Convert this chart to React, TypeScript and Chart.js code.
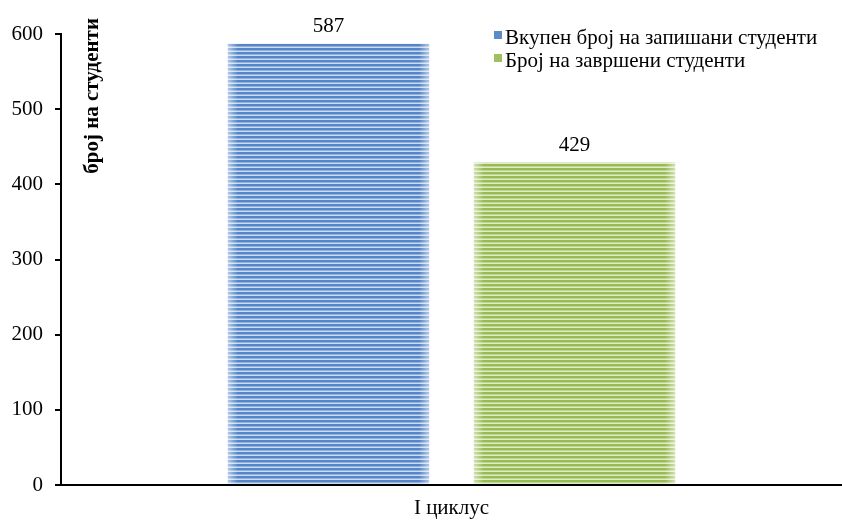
import React, { useEffect, useRef } from "react";
import { Chart, registerables } from "chart.js";

Chart.register(...registerables);

// Chart data
const categories = ["I циклус"];
const seriesLabels = ["Вкупен број на запишани студенти", "Број на завршени студенти"];
const enrolled = [587];
const graduated = [429];
const yTicks = [0, 100, 200, 300, 400, 500, 600];
const yTitle = "број на студенти";

const FONT = "'Liberation Serif', 'Times New Roman', serif";

// Horizontal pinstripe fill for the bars
function stripes(dark: string, mid: string, light: string): CanvasPattern | string {
  const c = document.createElement("canvas");
  c.width = 4;
  c.height = 4;
  const g = c.getContext("2d");
  if (!g) return dark;
  g.fillStyle = dark;
  g.fillRect(0, 0, 4, 2);
  g.fillStyle = mid;
  g.fillRect(0, 2, 4, 1);
  g.fillStyle = light;
  g.fillRect(0, 3, 4, 1);
  const ctx = document.createElement("canvas").getContext("2d");
  return (ctx && ctx.createPattern(c, "repeat")) || dark;
}

const swatches = ["#5b8bcb", "#9fc05e"];

// Soft light fade at the left and right edges of each bar
const barSheen = {
  id: "barSheen",
  afterDatasetsDraw(chart: any) {
    const ctx = chart.ctx;
    chart.data.datasets.forEach((_: any, di: number) => {
      chart.getDatasetMeta(di).data.forEach((el: any) => {
        const { x, y, base, width } = el.getProps(["x", "y", "base", "width"], true);
        const l = x - width / 2;
        const r = x + width / 2;
        const grad = ctx.createLinearGradient(l, 0, r, 0);
        grad.addColorStop(0, "rgba(255,255,255,0.55)");
        grad.addColorStop(0.05, "rgba(255,255,255,0)");
        grad.addColorStop(0.95, "rgba(255,255,255,0)");
        grad.addColorStop(1, "rgba(255,255,255,0.55)");
        ctx.save();
        ctx.fillStyle = grad;
        ctx.fillRect(l, y, width, base - y);
        ctx.restore();
      });
    });
  },
};

// Value labels above bars
const valueLabels = {
  id: "valueLabels",
  afterDatasetsDraw(chart: any) {
    const ctx = chart.ctx;
    ctx.save();
    ctx.font = `21px ${FONT}`;
    ctx.fillStyle = "#000";
    ctx.textAlign = "center";
    ctx.textBaseline = "alphabetic";
    chart.data.datasets.forEach((ds: any, di: number) => {
      chart.getDatasetMeta(di).data.forEach((el: any, i: number) => {
        ctx.fillText(String(ds.data[i]), el.x, el.y - 12);
      });
    });
    ctx.restore();
  },
};

// Axis title drawn inside the plot next to the value axis
const axisTitle = {
  id: "axisTitle",
  afterDraw(chart: any) {
    const ctx = chart.ctx;
    ctx.save();
    ctx.translate(chart.chartArea.left + 32, 18);
    ctx.rotate(-Math.PI / 2);
    ctx.font = `bold 21px ${FONT}`;
    ctx.fillStyle = "#000";
    ctx.textAlign = "right";
    ctx.textBaseline = "middle";
    ctx.fillText(yTitle, 0, 0);
    ctx.restore();
  },
};

// Legend in the upper right of the plot
const cornerLegend = {
  id: "cornerLegend",
  afterDraw(chart: any) {
    const ctx = chart.ctx;
    ctx.save();
    ctx.font = `21px ${FONT}`;
    ctx.textAlign = "left";
    ctx.textBaseline = "alphabetic";
    const x0 = 494;
    chart.data.datasets.forEach((ds: any, i: number) => {
      const base = 44 + i * 23;
      ctx.fillStyle = swatches[i];
      ctx.fillRect(x0, base - 13, 8, 8);
      ctx.fillStyle = "#000";
      ctx.fillText(ds.label, x0 + 11, base);
    });
    ctx.restore();
  },
};

export default function App() {
  const ref = useRef<HTMLCanvasElement | null>(null);

  useEffect(() => {
    if (!ref.current) return;
    const blue = stripes("#5586c9", "#8fb0dd", "#cddcf0");
    const green = stripes("#99bb55", "#bdd68e", "#e0ecc8");
    const chart = new Chart(ref.current, {
      type: "bar",
      data: {
        labels: categories,
        datasets: [
          { label: seriesLabels[0], data: enrolled, backgroundColor: blue as any, borderWidth: 0 },
          { label: seriesLabels[1], data: graduated, backgroundColor: green as any, borderWidth: 0 },
        ],
      },
      options: {
        animation: false,
        responsive: false,
        devicePixelRatio: 1,
        layout: { padding: { left: 0, top: 34, right: -4, bottom: 0 } },
        datasets: { bar: { categoryPercentage: 0.63, barPercentage: 0.818 } },
        plugins: { legend: { display: false }, tooltip: { enabled: false } },
        scales: {
          x: {
            grid: { display: false },
            border: { display: true, color: "#000", width: 2 },
            ticks: { color: "#000", font: { family: FONT, size: 21 }, padding: 3 },
            afterFit(scale: any) {
              scale.height = 37;
            },
          },
          y: {
            min: yTicks[0],
            max: yTicks[yTicks.length - 1],
            afterBuildTicks(scale: any) {
              scale.ticks = yTicks.map((v) => ({ value: v }));
            },
            grid: { display: true, drawOnChartArea: false, drawTicks: true, tickLength: 6, color: "#000", lineWidth: 2 },
            border: { display: true, color: "#000", width: 2 },
            ticks: { color: "#000", font: { family: FONT, size: 21 }, padding: 12 },
            afterFit(scale: any) {
              scale.width = 61;
            },
          },
        },
      },
      plugins: [barSheen, valueLabels, axisTitle, cornerLegend],
    });
    return () => chart.destroy();
  }, []);

  return (
    <div style={{ position: "absolute", left: 0, top: 0, width: 842, height: 522, background: "#fff" }}>
      <canvas ref={ref} width={842} height={522} style={{ display: "block" }} />
    </div>
  );
}
